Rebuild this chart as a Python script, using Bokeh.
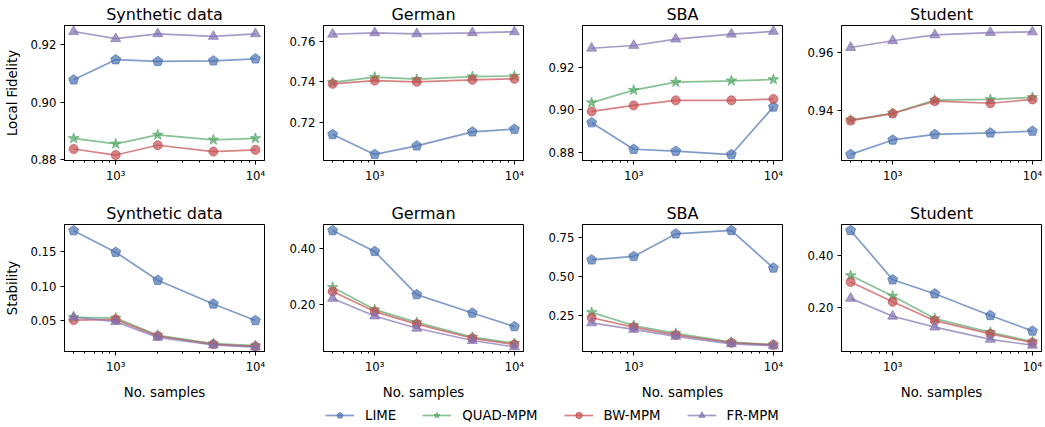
import math
from bokeh.plotting import figure
from bokeh.layouts import row, column
from bokeh.models import (FixedTicker, PrintfTickFormatter, Range1d, Legend, LegendItem,
                          CustomJSTickFormatter)
from bokeh.embed import file_html
from bokeh.resources import INLINE

# ---------------- data ----------------
samples = [500, 1000, 2000, 5000, 10000]
methods = ["LIME", "QUAD-MPM", "BW-MPM", "FR-MPM"]
datasets = ["Synthetic data", "German", "SBA", "Student"]

x_major_ticks = [1000, 10000]
x_minor_ticks = [500, 600, 700, 800, 900, 2000, 3000, 4000, 5000, 6000, 7000, 8000, 9000]

# Local fidelity
fid_synthetic_lime = [0.9078, 0.9148, 0.9142, 0.9144, 0.9151]
fid_synthetic_quad = [0.8874, 0.8855, 0.8886, 0.8869, 0.8874]
fid_synthetic_bw   = [0.8837, 0.8816, 0.8850, 0.8828, 0.8834]
fid_synthetic_fr   = [0.9246, 0.9221, 0.9238, 0.9229, 0.9238]

fid_german_lime = [0.7141, 0.7043, 0.7085, 0.7154, 0.7167]
fid_german_quad = [0.7397, 0.7423, 0.7413, 0.7426, 0.7429]
fid_german_bw   = [0.7390, 0.7406, 0.7400, 0.7410, 0.7415]
fid_german_fr   = [0.7634, 0.7641, 0.7636, 0.7641, 0.7646]

fid_sba_lime = [0.8939, 0.8814, 0.8805, 0.8789, 0.9013]
fid_sba_quad = [0.9033, 0.9092, 0.9130, 0.9136, 0.9142]
fid_sba_bw   = [0.8992, 0.9020, 0.9044, 0.9044, 0.9050]
fid_sba_fr   = [0.9289, 0.9302, 0.9332, 0.9355, 0.9368]

fid_student_lime = [0.9252, 0.9301, 0.9320, 0.9325, 0.9331]
fid_student_quad = [0.9369, 0.9392, 0.9437, 0.9439, 0.9446]
fid_student_bw   = [0.9367, 0.9391, 0.9433, 0.9426, 0.9439]
fid_student_fr   = [0.9616, 0.9639, 0.9659, 0.9667, 0.9669]

# Stability
stab_synthetic_lime = [0.1801, 0.1490, 0.1086, 0.0743, 0.0504]
stab_synthetic_quad = [0.0550, 0.0540, 0.0290, 0.0170, 0.0140]
stab_synthetic_bw   = [0.0510, 0.0520, 0.0280, 0.0160, 0.0130]
stab_synthetic_fr   = [0.0554, 0.0487, 0.0260, 0.0150, 0.0120]

stab_german_lime = [0.466, 0.391, 0.236, 0.170, 0.121]
stab_german_quad = [0.262, 0.182, 0.136, 0.083, 0.061]
stab_german_bw   = [0.247, 0.175, 0.130, 0.079, 0.057]
stab_german_fr   = [0.222, 0.159, 0.115, 0.071, 0.048]

stab_sba_lime = [0.608, 0.630, 0.774, 0.796, 0.556]
stab_sba_quad = [0.272, 0.188, 0.138, 0.082, 0.066]
stab_sba_bw   = [0.238, 0.178, 0.128, 0.078, 0.064]
stab_sba_fr   = [0.205, 0.163, 0.119, 0.071, 0.059]

stab_student_lime = [0.498, 0.308, 0.254, 0.170, 0.110]
stab_student_quad = [0.324, 0.245, 0.158, 0.105, 0.069]
stab_student_bw   = [0.299, 0.223, 0.150, 0.099, 0.065]
stab_student_fr   = [0.236, 0.167, 0.125, 0.078, 0.055]

fid_yticks = [[0.88, 0.90, 0.92], [0.72, 0.74, 0.76], [0.88, 0.90, 0.92], [0.94, 0.96]]
stab_yticks = [[0.05, 0.10, 0.15], [0.20, 0.40], [0.25, 0.50, 0.75], [0.20, 0.40]]

# ---------------- styling ----------------
colors = ["#4C72B0", "#55A868", "#C44E52", "#8172B2"]
markers = ["pentagon", "star", "circle", "triangle"]
marker_sizes = [10, 11, 9, 10]
ALPHA = 0.7
FONT = "DejaVu Sans"

fid_series = [
    [fid_synthetic_lime, fid_synthetic_quad, fid_synthetic_bw, fid_synthetic_fr],
    [fid_german_lime, fid_german_quad, fid_german_bw, fid_german_fr],
    [fid_sba_lime, fid_sba_quad, fid_sba_bw, fid_sba_fr],
    [fid_student_lime, fid_student_quad, fid_student_bw, fid_student_fr],
]
stab_series = [
    [stab_synthetic_lime, stab_synthetic_quad, stab_synthetic_bw, stab_synthetic_fr],
    [stab_german_lime, stab_german_quad, stab_german_bw, stab_german_fr],
    [stab_sba_lime, stab_sba_quad, stab_sba_bw, stab_sba_fr],
    [stab_student_lime, stab_student_quad, stab_student_bw, stab_student_fr],
]
fid_ranges = [(0.8797, 0.9267), (0.7013, 0.7677), (0.8761, 0.9396), (0.9231, 0.9691)]
stab_ranges = [(0.0056, 0.189), (0.0316, 0.4876), (0.022, 0.834), (0.031, 0.521)]

log_fmt = CustomJSTickFormatter(code="""
const e = Math.round(Math.log10(tick));
const sup = {'1':'\u00b9','2':'\u00b2','3':'\u00b3','4':'\u2074','5':'\u2075'};
return '10' + sup[String(e)];
""")


def add_series(p, i, xs, ys):
    c = colors[i]
    lr = p.line(xs, ys, line_color=c, line_width=1.7, line_alpha=ALPHA)
    if markers[i] == "pentagon":
        mr = p.ngon(xs, ys, radius=5.2, radius_units="screen", n=5, angle=0.0,
                    fill_color=c, fill_alpha=ALPHA, line_color=c, line_alpha=ALPHA, line_width=1)
    else:
        mr = p.scatter(xs, ys, marker=markers[i], size=marker_sizes[i],
                       fill_color=c, fill_alpha=ALPHA, line_color=c, line_alpha=ALPHA, line_width=1)
    return lr, mr


def panel(title, series, yr, yticks, col, row_idx, ylabel=None, xlabel=None):
    left = 64 if col == 0 else 55
    right = 3 if col == 3 else 4
    top = 25 if row_idx == 0 else 23
    fh = 135 if row_idx == 0 else 136
    bottom = 39 if row_idx == 0 else 44
    p = figure(width=left + 200 + right, height=top + fh + bottom,
               x_axis_type="log", x_range=Range1d(430, 11615), y_range=Range1d(*yr),
               output_backend="svg", toolbar_location=None,
               min_border_left=left, min_border_right=right,
               min_border_top=top, min_border_bottom=bottom)
    p.title.text = title
    p.title.align = "center"
    p.title.text_font = FONT
    p.title.text_font_size = "16px"
    p.title.text_font_style = "normal"
    p.title.text_color = "black"
    p.title.standoff = 4
    p.grid.visible = False
    p.outline_line_color = "black"
    p.outline_line_alpha = 1
    p.outline_line_width = 1
    p.background_fill_color = "white"

    xa = p.xaxis[0]
    xa.ticker = FixedTicker(ticks=x_major_ticks, minor_ticks=x_minor_ticks)
    xa.formatter = log_fmt
    ya = p.yaxis[0]
    ya.ticker = FixedTicker(ticks=yticks, minor_ticks=[])
    ya.formatter = PrintfTickFormatter(format="%.2f")
    for ax in (xa, ya):
        ax.major_tick_out = 4
        ax.major_tick_in = 0
        ax.minor_tick_out = 2
        ax.minor_tick_in = 0
        ax.axis_line_color = "black"
        ax.major_tick_line_color = "black"
        ax.minor_tick_line_color = "black"
        ax.major_label_text_font = FONT
        ax.major_label_text_font_size = "11.7px"
        ax.major_label_text_color = "black"
        ax.axis_label_text_font = FONT
        ax.axis_label_text_font_size = "13.3px"
        ax.axis_label_text_font_style = "normal"
        ax.axis_label_text_color = "black"
    xa.major_label_standoff = 4
    xa.axis_label_standoff = 8
    ya.major_label_standoff = 4
    ya.axis_label_standoff = 7
    if ylabel:
        ya.axis_label = ylabel
    if xlabel:
        xa.axis_label = xlabel
    for i, ys in enumerate(series):
        add_series(p, i, samples, ys)
    return p


top_figs = []
bot_figs = []
for c in range(4):
    top_figs.append(panel(datasets[c], fid_series[c], fid_ranges[c], fid_yticks[c], c, 0,
                          ylabel="Local Fidelity" if c == 0 else None))
    bot_figs.append(panel(datasets[c], stab_series[c], stab_ranges[c], stab_yticks[c], c, 1,
                          ylabel="Stability" if c == 0 else None, xlabel="No. samples"))

# legend figure (legend-only; its dummy glyphs hold NaN so nothing is drawn in the frame)
lf = figure(width=1044, height=24, x_range=Range1d(0, 1), y_range=Range1d(0, 1),
            output_backend="svg", toolbar_location=None, min_border=0,
            x_axis_location=None, y_axis_location=None)
lf.outline_line_color = None
lf.grid.visible = False
items = []
nan = float("nan")
for i, m in enumerate(methods):
    lr, mr = add_series(lf, i, [nan], [nan])
    items.append(LegendItem(label=m, renderers=[lr, mr]))
leg = Legend(items=items, orientation="horizontal", location=(325, 3),
             glyph_width=29, glyph_height=16, label_height=16, label_standoff=11,
             spacing=26, padding=0, margin=0, border_line_alpha=0,
             background_fill_alpha=0, label_text_font=FONT,
             label_text_font_size="13.3px", label_text_color="black")
lf.add_layout(leg)

layout = column(row(*top_figs), row(*bot_figs), lf)

open("out.html", "w").write(file_html(layout, INLINE))
